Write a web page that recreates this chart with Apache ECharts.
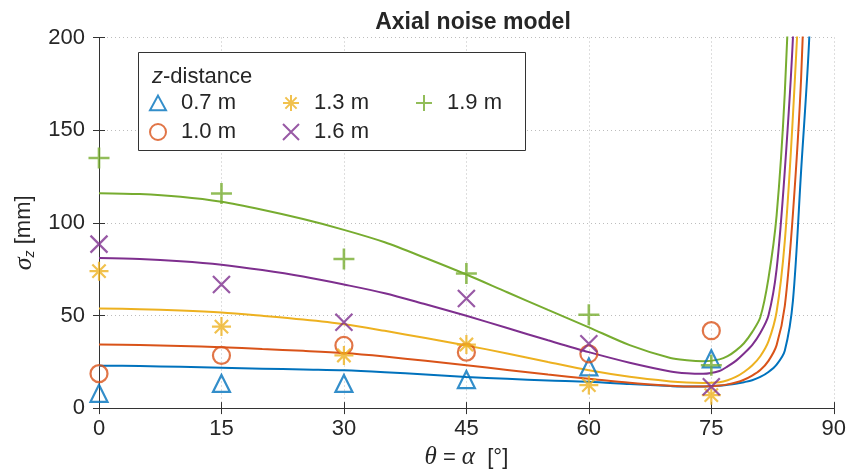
<!DOCTYPE html>
<html>
<head>
<meta charset="utf-8">
<script src="https://cdn.jsdelivr.net/npm/echarts@6/dist/echarts.min.js"></script>
<style>
  html, body { margin: 0; padding: 0; background: #fff; }
  #graph1 { width: 849px; height: 475px; }
</style>
</head>
<body>
<div id="graph1"></div>
<script>
// measured points (angle in degrees, sigma_z in mm)
var thetaPts = [0, 15, 30, 45, 60, 75];
var pts07 = [8, 13.3, 13.3, 15.4, 22.2, 26.6];
var pts10 = [18.6, 28.4, 33.8, 30.2, 29.3, 41.8];
var pts13 = [73.9, 44, 28.4, 34.3, 12.4, 7];
var pts16 = [88.5, 66.7, 46.3, 59.1, 34.7, 11.5];
var pts19 = [135, 115.8, 80.5, 72.6, 50.4, 23.1];

// fitted model curves
var thetaFit = [0, 5, 10, 15, 20, 25, 30, 35, 40, 45, 50, 55, 60, 65, 70, 72, 74, 76, 77, 78, 79, 80, 81, 82, 83, 84, 85, 86, 87, 88];
var fit07 = [22.9, 22.7, 22.3, 21.8, 21.3, 20.8, 20.4, 19.4, 18.1, 16.8, 15.8, 14.9, 14.2, 13.0, 11.9, 11.6, 11.6, 12.1, 12.6, 13.2, 14.0, 15.0, 16.8, 19.5, 23.5, 31, 58, 128, 200, 330];
var fit10 = [34.3, 34.0, 33.5, 32.9, 31.9, 30.9, 29.7, 27.8, 25.5, 23.1, 20.6, 18.1, 15.9, 13.7, 12.1, 11.7, 11.7, 12.2, 12.8, 13.8, 15.3, 17.5, 20.5, 25.5, 34, 55, 105, 178, 300, 450];
var fit13 = [53.7, 53.4, 52.7, 51.6, 49.8, 47.8, 45.3, 41.7, 37.8, 33.8, 29.5, 24.9, 20.4, 16.9, 14.4, 13.8, 13.6, 14.0, 15.0, 16.8, 19.5, 23, 28, 36, 52, 90, 158, 250, 400, 600];
var fit16 = [81, 80.5, 79.3, 77.4, 74.5, 71, 66.7, 62, 56, 49.8, 43.2, 36.6, 30.2, 24.5, 19.8, 18.8, 18.5, 20, 22.5, 25.5, 29.5, 34, 40.5, 50, 75, 128, 200, 320, 500, 750];
var fit19 = [116, 115.5, 114, 111.3, 107, 102, 96.2, 89.5, 81, 72.1, 62.5, 53, 43.6, 34, 27, 25.8, 25.3, 26.3, 28, 31, 35, 41, 49, 70, 104, 170, 280, 450, 700, 1000];

var names = ['0.7 m', '1.0 m', '1.3 m', '1.6 m', '1.9 m'];
var colors = ['#0072BD', '#D95319', '#EDB120', '#7E2F8E', '#77AC30'];
var symbols = [
    'path://M0,-1L0.95,0.75L-0.95,0.75Z',
    'path://M0,-1A1,1 0 1,1 0,1A1,1 0 1,1 0,-1Z',
    'path://M-1,0L1,0M0,-1L0,1M-0.7,-0.7L0.7,0.7M-0.7,0.7L0.7,-0.7',
    'path://M-1,-1L1,1M-1,1L1,-1',
    'path://M-1,0L1,0M0,-1L0,1'
];
var sizes = [17, 17, 19, 17, 21];
var ptsAll = [pts07, pts10, pts13, pts16, pts19];
var fitAll = [fit07, fit10, fit13, fit16, fit19];

var myChart1 = echarts.init(document.getElementById('graph1'));

var font = 'Liberation Sans, Arial, sans-serif';
var ink = '#262626';

var series = [];
for (var i = 0; i < 5; i++) {
    var line = [];
    for (var j = 0; j < thetaFit.length; j++) {
        line.push([thetaFit[j], fitAll[i][j]]);
    }
    series.push({
        name: 'fit ' + names[i],
        type: 'line',
        data: line,
        symbol: 'none',
        smooth: 0.3,
        lineStyle: { color: colors[i], width: 2 },
        z: 2
    });
}
for (var i = 0; i < 5; i++) {
    var pts = [];
    for (var j = 0; j < thetaPts.length; j++) {
        pts.push([thetaPts[j], ptsAll[i][j]]);
    }
    series.push({
        name: names[i],
        type: 'scatter',
        data: pts,
        symbol: symbols[i],
        symbolSize: sizes[i],
        itemStyle: { color: 'transparent', borderColor: colors[i], borderWidth: i == 4 ? 2.6 : 2.2 },
        z: 3
    });
}

function legendBox(left, items) {
    return {
        orient: 'vertical',
        left: left,
        top: 91,
        padding: 0,
        itemGap: 5,
        itemWidth: 16,
        itemHeight: 16,
        data: items,
        selectedMode: false,
        textStyle: { fontFamily: font, fontSize: 22, color: ink, lineHeight: 24, padding: [0, 0, 0, 10] },
        z: 5
    };
}

var axisCommon = {
    min: 0,
    axisLine: { show: true, lineStyle: { color: '#333', width: 1 } },
    axisTick: { show: true, inside: true, length: 6, lineStyle: { color: '#333', width: 1 } }
};
var gridStyle = { show: true, lineStyle: { type: [1, 3], color: '#bdbdbd', width: 1 } };

var option = {
    animation: false,
    backgroundColor: '#fff',
    title: [
        {
            text: 'Axial noise model',
            left: 468,
            top: 6,
            textAlign: 'center',
            textStyle: { fontFamily: font, fontSize: 23, fontWeight: 'bold', color: ink }
        },
        {
            text: '{i|z}-distance',
            left: 147,
            top: 61,
            textStyle: {
                fontFamily: font, fontSize: 22, fontWeight: 'normal', color: ink,
                rich: { i: { fontFamily: font, fontSize: 22, fontStyle: 'italic', color: ink } }
            },
            z: 6
        }
    ],
    legend: [
        legendBox(149, ['0.7 m', '1.0 m']),
        legendBox(282, ['1.3 m', '1.6 m']),
        legendBox(415, ['1.9 m'])
    ],
    graphic: [{
        type: 'rect',
        shape: { x: 138.5, y: 52.5, width: 387, height: 98 },
        style: { fill: '#fff', stroke: '#333', lineWidth: 1 },
        z: 4
    }],
    grid: { left: 99, right: 11, top: 37.5, bottom: 63.5, containLabel: false },
    xAxis: [
        Object.assign({}, axisCommon, {
            type: 'value', max: 90, interval: 15, position: 'bottom',
            name: '{t|θ} = {t|α}  [°]',
            nameLocation: 'middle',
            nameGap: 36,
            nameTextStyle: {
                fontFamily: font, fontSize: 22, color: ink,
                rich: { t: { fontFamily: 'Liberation Serif, serif', fontStyle: 'italic', fontSize: 25, color: ink } }
            },
            axisLabel: { fontFamily: font, fontSize: 22, color: ink, margin: 10 },
            splitLine: gridStyle
        }),
        Object.assign({}, axisCommon, {
            type: 'value', max: 90, interval: 15, position: 'top',
            axisLabel: { show: false }, splitLine: { show: false }
        })
    ],
    yAxis: [
        Object.assign({}, axisCommon, {
            type: 'value', max: 200, interval: 50, position: 'left',
            name: '{s|σ}{z|z} [mm]',
            nameLocation: 'middle',
            nameRotate: 90,
            nameGap: 62,
            nameTextStyle: {
                fontFamily: font, fontSize: 22, color: ink,
                padding: [0, 20, 0, 0],
                rich: {
                    s: { fontFamily: 'Liberation Serif, serif', fontStyle: 'italic', fontSize: 26, color: ink },
                    z: { fontFamily: font, fontStyle: 'italic', fontSize: 14, color: ink, verticalAlign: 'bottom', padding: [12, 0, 0, 0] }
                }
            },
            axisLabel: { fontFamily: font, fontSize: 22, color: ink, margin: 14 },
            splitLine: gridStyle
        }),
        Object.assign({}, axisCommon, {
            type: 'value', max: 200, interval: 50, position: 'right',
            axisLabel: { show: false }, splitLine: { show: false }
        })
    ],
    series: series
};
myChart1.setOption(option);
</script>
</body>
</html>
